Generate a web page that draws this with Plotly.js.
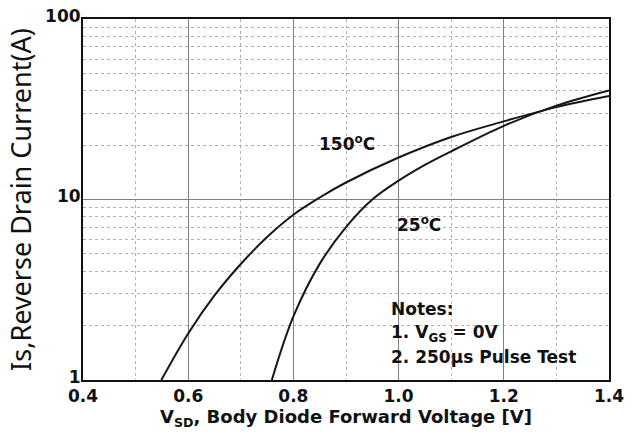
<!DOCTYPE html>
<html><head><meta charset="utf-8">
<script src="https://cdn.plot.ly/plotly-3.0.1.min.js"></script>
<style>body{margin:0;background:#fff}#c{width:640px;height:434px}</style>
</head><body><div id="c"></div>
<script>
var v150 = [0.549, 0.6, 0.65, 0.7, 0.75, 0.8, 0.85, 0.9, 1.0, 1.1, 1.2, 1.3, 1.4];
var i150 = [1, 1.81, 2.94, 4.39, 6.2, 8.24, 10.26, 12.42, 17.08, 22.2, 27.1, 32.5, 37.4];
var v25 = [0.759, 0.8, 0.85, 0.9, 0.95, 1.0, 1.05, 1.1, 1.2, 1.3, 1.4];
var i25 = [1, 2.25, 4.4, 7.03, 9.99, 12.71, 15.54, 18.48, 25.6, 33.1, 40.2];
var xTicks = [0.4, 0.6, 0.8, 1.0, 1.2, 1.4];
var xTickText = ['0.4', '0.6', '0.8', '1.0', '1.2', '1.4'];
var yTicks = [1, 10, 100];
var yTickText = ['1', '10', '100'];
var yMinor = [2, 3, 4, 5, 6, 7, 8, 9, 20, 30, 40, 50, 60, 70, 80, 90];

var bold = function (arr) { return arr.map(function (t) { return '<b>' + t + '</b>'; }); };
var FAM = 'DejaVu Sans, Arial, sans-serif';
var lineStyle = {color: '#161616', width: 2, shape: 'spline', smoothing: 1};
var data = [
  {x: v150, y: i150, mode: 'lines', line: lineStyle, name: '150°C', showlegend: false},
  {x: v25, y: i25, mode: 'lines', line: lineStyle, name: '25°C', showlegend: false}
];
var tf = {family: FAM, size: 17, color: '#111'};
var nf = {family: FAM, size: 17, color: '#111'};
var layout = {
  width: 640, height: 434,
  margin: {l: 83, r: 31, t: 19, b: 54},
  paper_bgcolor: '#fff', plot_bgcolor: '#fff',
  showlegend: false,
  xaxis: {
    range: [0.4, 1.4], tickvals: xTicks, ticktext: bold(xTickText),
    showgrid: true, gridcolor: '#808080', gridwidth: 1,
    minor: {dtick: 0.1, tick0: 0.4, showgrid: true, gridcolor: '#b0b0b0', griddash: 'dot', gridwidth: 1},
    showline: true, linecolor: '#111', linewidth: 2, mirror: true,
    ticks: '', tickfont: tf, zeroline: false,
    title: {text: '<b>V<sub>SD</sub>, Body Diode Forward Voltage [V]</b>', font: {family: FAM, size: 18, color: '#111'}, standoff: 2}
  },
  yaxis: {
    type: 'log', range: [0, 2], tickvals: yTicks, ticktext: bold(yTickText),
    showgrid: true, gridcolor: '#808080', gridwidth: 1,
    minor: {tickvals: yMinor, showgrid: true, gridcolor: '#b0b0b0', griddash: 'dot', gridwidth: 1},
    showline: true, linecolor: '#111', linewidth: 2, mirror: true,
    ticks: '', tickfont: tf, zeroline: false, ticklabelshift: -3, ticklabelstandoff: -3,
    title: {text: 'Is,Reverse Drain Current(A)', font: {family: 'Noto Sans, Open Sans, sans-serif', size: 27, color: '#111'}, standoff: 6}
  },
  shapes: [
    {type: 'rect', xref: 'paper', yref: 'paper', x0: 0.565, x1: 0.978, y0: 0.028, y1: 0.249,
     fillcolor: '#fff', line: {width: 0}, layer: 'between'}
  ],
  annotations: [
    {x: 0.902, y: Math.log10(20.5), xref: 'x', yref: 'y', text: '<b>150<sup>o</sup>C</b>', showarrow: false, font: tf},
    {x: 1.039, y: Math.log10(7.3), xref: 'x', yref: 'y', text: '<b>25<sup>o</sup>C</b>', showarrow: false, font: tf},
    {x: 0.582, y: 0.197, xref: 'paper', yref: 'paper', xanchor: 'left', yanchor: 'middle', text: '<b>Notes:</b>', showarrow: false, font: nf},
    {x: 0.582, y: 0.130, xref: 'paper', yref: 'paper', xanchor: 'left', yanchor: 'middle', text: '<b>1. V<sub>GS</sub> = 0V</b>', showarrow: false, font: nf},
    {x: 0.582, y: 0.064, xref: 'paper', yref: 'paper', xanchor: 'left', yanchor: 'middle', text: '<b>2. 250μs Pulse Test</b>', showarrow: false, font: nf}
  ]
};
Plotly.newPlot('c', data, layout, {displayModeBar: false, staticPlot: true});
</script>
</body></html>
